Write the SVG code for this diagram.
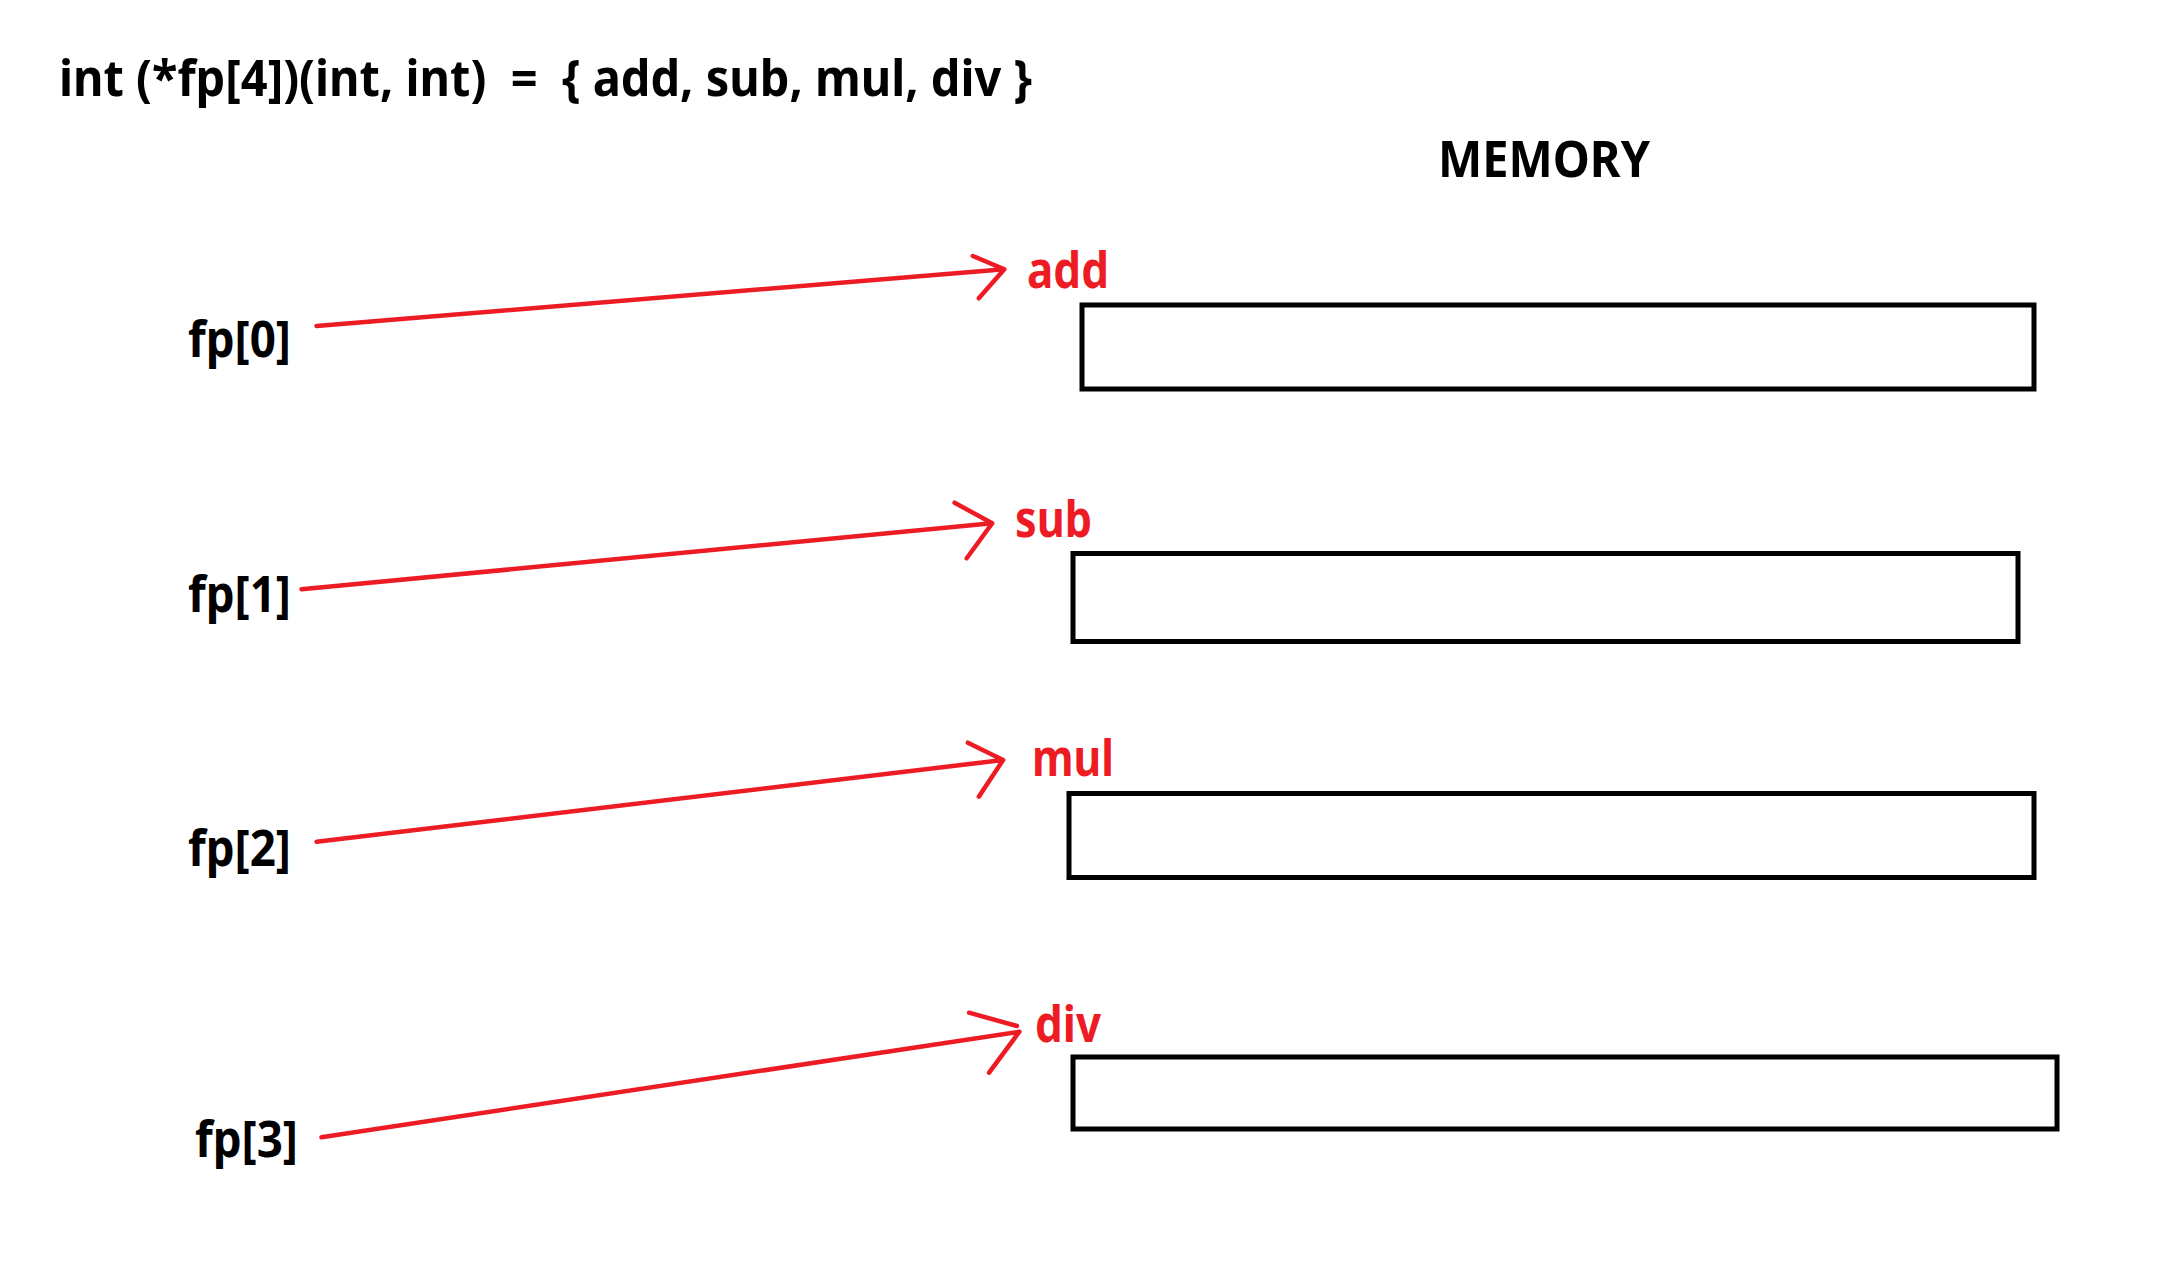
<svg xmlns="http://www.w3.org/2000/svg" width="2172" height="1272" viewBox="0 0 2172 1272">
<style>
.t{font-family:"Noto Sans","Open Sans","Liberation Sans",sans-serif;font-weight:bold;font-size:50px;fill:#000}
.r{fill:#ED1C24}
.box{fill:#fff;stroke:#000;stroke-width:5}
.ln{fill:none;stroke:#ED1C24;stroke-width:4.5;stroke-linecap:round;stroke-linejoin:round}
</style>
<rect width="2172" height="1272" fill="#fff"/>
<g id="title"><text class="t" x="59" y="96" textLength="973" lengthAdjust="spacingAndGlyphs">int (*fp[4])(int, int)&#160; =&#160; { add, sub, mul, div }</text></g>
<g id="memory"><text class="t" x="1438" y="177" textLength="212" lengthAdjust="spacingAndGlyphs">MEMORY</text></g>
<g id="fp0"><text class="t" x="188" y="357" textLength="103" lengthAdjust="spacingAndGlyphs">fp[0]</text></g>
<g id="fp1"><text class="t" x="188" y="612" textLength="103" lengthAdjust="spacingAndGlyphs">fp[1]</text></g>
<g id="fp2"><text class="t" x="188" y="866" textLength="103" lengthAdjust="spacingAndGlyphs">fp[2]</text></g>
<g id="fp3"><text class="t" x="195" y="1157" textLength="103" lengthAdjust="spacingAndGlyphs">fp[3]</text></g>
<g id="add"><text class="t r" x="1027" y="288" textLength="82" lengthAdjust="spacingAndGlyphs">add</text><rect class="box" x="1082" y="305" width="952" height="84"/></g>
<g id="sub"><text class="t r" x="1015" y="537" textLength="77" lengthAdjust="spacingAndGlyphs">sub</text><rect class="box" x="1073" y="553.5" width="945" height="88"/></g>
<g id="mul"><text class="t r" x="1032" y="776" textLength="82" lengthAdjust="spacingAndGlyphs">mul</text><rect class="box" x="1069" y="793.5" width="965" height="84"/></g>
<g id="div"><text class="t r" x="1035" y="1042" textLength="66" lengthAdjust="spacingAndGlyphs">div</text><rect class="box" x="1073" y="1057" width="984" height="72"/></g>
<g id="connectors">
<path class="ln" d="M316.6,326 L1004.3,269.3 M972.8,256 L1004.3,269.3 L978.8,298.3"/>
<path class="ln" d="M301.5,589.3 L992.2,523.3 M954.6,502.7 L992.2,523.3 L966.7,558.3"/>
<path class="ln" d="M316.6,841.7 L1003.1,760 M967.9,742.7 L1003.1,760 L978.8,796.7"/>
<path class="ln" d="M321.5,1137.3 L1019.4,1031.7 M969.1,1012.7 L1017,1026 M1019.4,1031.7 L989.1,1072.7"/>
</g>
</svg>
